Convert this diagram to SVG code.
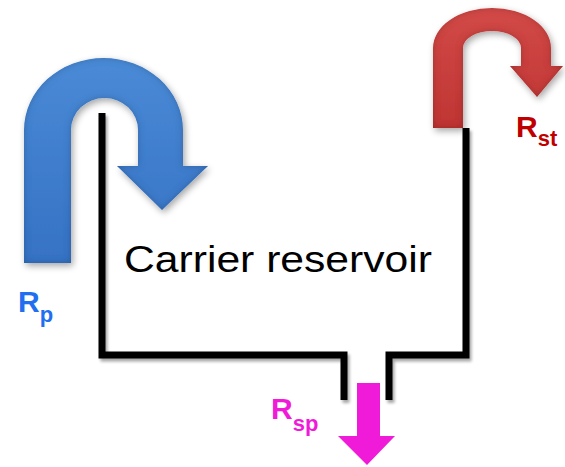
<svg xmlns="http://www.w3.org/2000/svg" width="565" height="467" viewBox="0 0 565 467">
  <style>
    .wall { fill: none; stroke: #000; stroke-width: 7; stroke-linejoin: miter; stroke-linecap: butt; }
    .lbl { font-family: "Liberation Sans", Arial, sans-serif; font-weight: bold; font-size: 30px; }
    .sub { font-size: 22px; }
    .main { font-family: "Liberation Sans", Arial, sans-serif; font-size: 36px; fill: #000; }
  </style>
  <defs>
    <linearGradient id="blueFill" x1="0" y1="0" x2="0" y2="1">
      <stop offset="0" stop-color="#4a8ad6"/>
      <stop offset="1" stop-color="#3672c4"/>
    </linearGradient>
    <linearGradient id="redFill" x1="0" y1="0" x2="0" y2="1">
      <stop offset="0" stop-color="#d24a48"/>
      <stop offset="1" stop-color="#bf3533"/>
    </linearGradient>
    <!-- soft rim darkening plus drop shadow for the turn arrows -->
    <filter id="bevel" x="-20%" y="-20%" width="140%" height="140%">
      <feGaussianBlur in="SourceAlpha" stdDeviation="3.5" result="blur"/>
      <feComposite in="SourceAlpha" in2="blur" operator="arithmetic" k2="1" k3="-1" result="rim"/>
      <feFlood flood-color="#000" flood-opacity="0.4" result="fl"/>
      <feComposite in="fl" in2="rim" operator="in" result="rimDark"/>
      <feOffset in="blur" dx="2" dy="3" result="sh"/>
      <feComponentTransfer in="sh" result="shadow">
        <feFuncA type="linear" slope="0.35"/>
      </feComponentTransfer>
      <feMerge>
        <feMergeNode in="shadow"/>
        <feMergeNode in="SourceGraphic"/>
        <feMergeNode in="rimDark"/>
      </feMerge>
    </filter>
    <filter id="lineShadow" x="-10%" y="-10%" width="120%" height="120%">
      <feGaussianBlur in="SourceAlpha" stdDeviation="1.5" result="b"/>
      <feOffset in="b" dx="2" dy="3" result="o"/>
      <feComponentTransfer in="o" result="s">
        <feFuncA type="linear" slope="0.35"/>
      </feComponentTransfer>
      <feMerge>
        <feMergeNode in="s"/>
        <feMergeNode in="SourceGraphic"/>
      </feMerge>
    </filter>
  </defs>

  <!-- reservoir walls -->
  <g id="connectors" filter="url(#lineShadow)">
    <path class="wall" d="M102,113 V355 H344 V400"/>
    <path class="wall" d="M389,400 V355 H466 V128"/>
  </g>

  <!-- pumping: blue U-turn arrow -->
  <g id="pump">
    <path filter="url(#bevel)" fill="url(#blueFill)"
          d="M24,263 V130 A79.5,72 0 0 1 183,130 V166 H208 L162,210 L117,166 H138 V130 A33.5,32 0 0 0 71,130 V263 Z"/>
    <text class="lbl" x="18" y="312" fill="#1f6ff0">R<tspan class="sub" dy="10">p</tspan></text>
  </g>

  <!-- stimulated emission: red U-turn arrow -->
  <g id="stimulated">
    <path filter="url(#bevel)" fill="url(#redFill)"
          d="M433,128 V48 A59,40 0 0 1 551,48 V66 H563 L537,97 L510,66 H521 V48 A29,17 0 0 0 463,48 V128 Z"/>
    <text class="lbl" x="516" y="137" fill="#c00000">R<tspan class="sub" dy="9">st</tspan></text>
  </g>

  <!-- spontaneous emission: magenta down arrow -->
  <g id="spontaneous">
    <path fill="#f01bd8" d="M357,383 H380 V436 H395 L367,465 L338,436 H357 Z"/>
    <text class="lbl" x="271" y="419" fill="#f01bd8">R<tspan class="sub" dy="12">sp</tspan></text>
  </g>

  <!-- reservoir label -->
  <g id="reservoir">
    <text class="main" x="124" y="272" textLength="308" lengthAdjust="spacingAndGlyphs">Carrier reservoir</text>
  </g>
</svg>
